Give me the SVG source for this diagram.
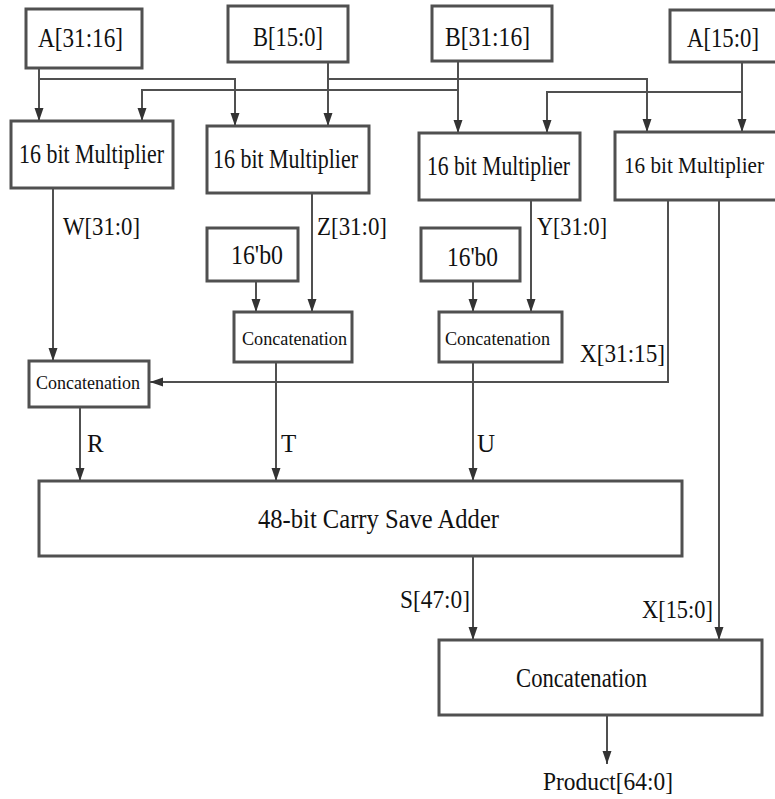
<svg xmlns="http://www.w3.org/2000/svg" width="775" height="799" viewBox="0 0 775 799">
<defs>
<style>
.box{fill:#fff;stroke:#505050;stroke-width:3}
.ln{fill:none;stroke:#505050;stroke-width:2}
text{font-family:'Liberation Serif','Times New Roman',serif;fill:#111}
.big{font-size:27px}
.lab{font-size:25px}
.sm{font-size:19px}
</style>
<marker id="ah" markerUnits="userSpaceOnUse" markerWidth="14" markerHeight="12" viewBox="0 0 14 12" refX="13" refY="6" orient="auto">
<path d="M0,1.5 L13,6 L0,10.5 Z" fill="#333"/>
</marker>
</defs>
<rect width="775" height="799" fill="#fff"/>

<g id="connectors">
<path class="ln" d="M39 68 V121" marker-end="url(#ah)"/>
<path class="ln" d="M39 79 H235 V126" marker-end="url(#ah)"/>
<path class="ln" d="M328 62 V126" marker-end="url(#ah)"/>
<path class="ln" d="M328 79 H647 V132" marker-end="url(#ah)"/>
<path class="ln" d="M458 61 V133" marker-end="url(#ah)"/>
<path class="ln" d="M458 90 H142 V121" marker-end="url(#ah)"/>
<path class="ln" d="M742 62 V132" marker-end="url(#ah)"/>
<path class="ln" d="M742 92 H547 V133" marker-end="url(#ah)"/>
<path class="ln" d="M53 188 V361" marker-end="url(#ah)"/>
<path class="ln" d="M312 193 V312" marker-end="url(#ah)"/>
<path class="ln" d="M256 281 V312" marker-end="url(#ah)"/>
<path class="ln" d="M531 200 V312" marker-end="url(#ah)"/>
<path class="ln" d="M473 281 V312" marker-end="url(#ah)"/>
<path class="ln" d="M668 200 V382 H150" marker-end="url(#ah)"/>
<path class="ln" d="M719 200 V640" marker-end="url(#ah)"/>
<path class="ln" d="M80 407 V481" marker-end="url(#ah)"/>
<path class="ln" d="M276 362 V481" marker-end="url(#ah)"/>
<path class="ln" d="M473 362 V481" marker-end="url(#ah)"/>
<path class="ln" d="M473 556 V640" marker-end="url(#ah)"/>
<path class="ln" d="M607 715 V764" marker-end="url(#ah)"/>
</g>

<g id="in_a_hi"><rect class="box" x="26" y="9" width="116" height="59"/><text class="big" x="38" y="47" textLength="85" lengthAdjust="spacingAndGlyphs">A[31:16]</text></g>
<g id="in_b_lo"><rect class="box" x="228" y="6" width="120" height="56"/><text class="big" x="253" y="46" textLength="70" lengthAdjust="spacingAndGlyphs">B[15:0]</text></g>
<g id="in_b_hi"><rect class="box" x="432" y="6" width="120" height="55"/><text class="big" x="445" y="46" textLength="85" lengthAdjust="spacingAndGlyphs">B[31:16]</text></g>
<g id="in_a_lo"><path class="box" d="M775 10 H670 V62 H775"/><text class="big" x="687" y="47" textLength="72" lengthAdjust="spacingAndGlyphs">A[15:0]</text></g>

<g id="mul1"><rect class="box" x="11" y="121" width="162" height="67"/><text class="big" x="19" y="163" textLength="145" lengthAdjust="spacingAndGlyphs">16 bit Multiplier</text></g>
<g id="mul2"><rect class="box" x="207" y="126" width="162" height="67"/><text class="big" x="213" y="168" textLength="145" lengthAdjust="spacingAndGlyphs">16 bit Multiplier</text></g>
<g id="mul3"><rect class="box" x="419" y="133" width="161" height="67"/><text class="big" x="427" y="175" textLength="143" lengthAdjust="spacingAndGlyphs">16 bit Multiplier</text></g>
<g id="mul4"><path class="box" d="M775 132 H615 V200 H775"/><text x="624" y="173" font-size="22.5" textLength="140" lengthAdjust="spacingAndGlyphs">16 bit Multiplier</text></g>

<g id="zero1"><rect class="box" x="207" y="228" width="91" height="53"/><text class="big" x="231" y="264" textLength="52" lengthAdjust="spacingAndGlyphs">16'b0</text></g>
<g id="zero2"><rect class="box" x="421" y="228" width="99" height="53"/><text class="big" x="447" y="266" textLength="51" lengthAdjust="spacingAndGlyphs">16'b0</text></g>

<g id="concat_r"><rect class="box" x="29" y="361" width="120" height="46"/><text class="sm" x="36" y="389" textLength="104" lengthAdjust="spacingAndGlyphs">Concatenation</text></g>
<g id="concat_t"><rect class="box" x="234" y="312" width="118" height="50"/><text class="sm" x="242" y="345" textLength="105" lengthAdjust="spacingAndGlyphs">Concatenation</text></g>
<g id="concat_u"><rect class="box" x="439" y="312" width="123" height="50"/><text class="sm" x="445" y="345" textLength="105" lengthAdjust="spacingAndGlyphs">Concatenation</text></g>

<g id="csa"><rect class="box" x="39" y="481" width="643" height="75"/><text class="big" x="258" y="528" textLength="241" lengthAdjust="spacingAndGlyphs">48-bit Carry Save Adder</text></g>
<g id="concat_out"><rect class="box" x="439" y="640" width="323" height="75"/><text class="big" x="516" y="687" textLength="131" lengthAdjust="spacingAndGlyphs">Concatenation</text></g>

<g id="labels">
<text class="lab" x="63" y="235" textLength="77" lengthAdjust="spacingAndGlyphs">W[31:0]</text>
<text class="lab" x="317" y="235" textLength="70" lengthAdjust="spacingAndGlyphs">Z[31:0]</text>
<text class="lab" x="537" y="235" textLength="70" lengthAdjust="spacingAndGlyphs">Y[31:0]</text>
<text class="lab" x="580" y="362" textLength="85" lengthAdjust="spacingAndGlyphs">X[31:15]</text>
<text class="lab" x="87" y="452">R</text>
<text class="lab" x="281" y="452">T</text>
<text class="lab" x="477" y="452">U</text>
<text class="lab" x="400" y="608" textLength="70" lengthAdjust="spacingAndGlyphs">S[47:0]</text>
<text class="lab" x="642" y="618" textLength="71" lengthAdjust="spacingAndGlyphs">X[15:0]</text>
<text class="lab" x="543" y="790" textLength="130" lengthAdjust="spacingAndGlyphs">Product[64:0]</text>
</g>
</svg>
